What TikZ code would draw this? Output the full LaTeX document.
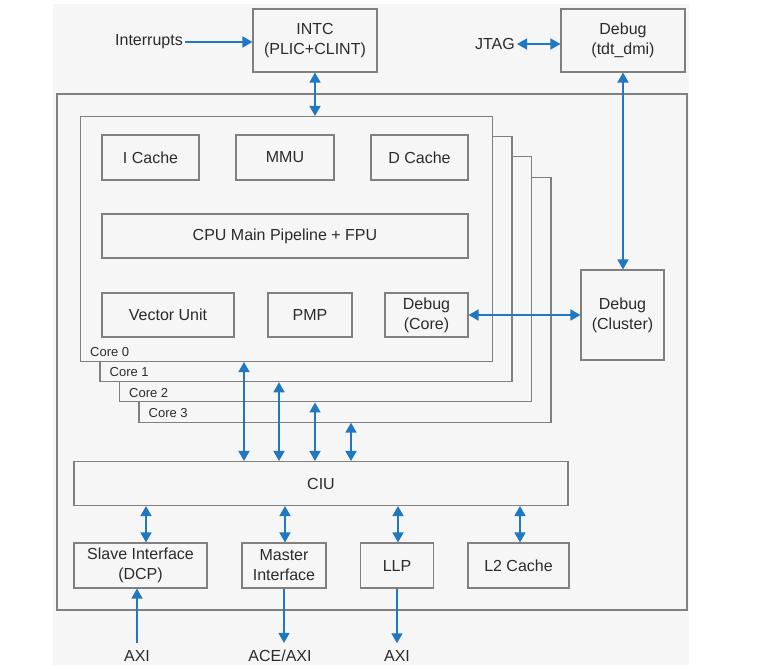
\documentclass[tikz,border=0pt]{standalone}
\usepackage{fontspec}
\setmainfont{Liberation Sans}
\usetikzlibrary{calc}
\usetikzlibrary{arrows.meta}

\definecolor{boxgray}{HTML}{808080}
\definecolor{bggray}{HTML}{F6F6F6}
\definecolor{txtgray}{HTML}{2B2B2B}
\definecolor{arrowblue}{HTML}{1F78C1}

\begin{document}
\begin{tikzpicture}[x=1pt, y=-1pt,
  blk/.style={draw=boxgray, line width=1.1pt, text=txtgray, font=\fontsize{16}{20}\selectfont, align=center, inner sep=0pt},
  corelbl/.style={text=txtgray, font=\fontsize{13}{15}\selectfont, anchor=south west, inner sep=2pt},
  lbl/.style={text=txtgray, font=\fontsize{16}{20}\selectfont, inner sep=2pt},
  uni/.style={arrowblue, line width=1.6pt, -{Triangle[length=10pt,width=11pt]}},
  bi/.style={arrowblue, line width=1.6pt, {Triangle[length=10pt,width=11pt]}-{Triangle[length=10pt,width=11pt]}}]

\useasboundingbox (0,0) rectangle (769,669);
\fill[bggray] (53,4) rectangle (689,665);

% top row
\node[blk, minimum width=124, minimum height=63] (intc) at (315,40.5) {INTC\\(PLIC+CLINT)};
\node[blk, minimum width=124, minimum height=63] (dmi) at (623,40.5) {Debug\\(tdt\_dmi)};
\node[lbl] (irq) at (149,42) {Interrupts};
\node[lbl] (jtag) at (495,44) {JTAG};

% cluster and core stack
\node[blk, minimum width=630, minimum height=516] (cluster) at (372,352) {};
\foreach \i in {3,2,1,0}
  \node[blk, fill=bggray, minimum width=412, minimum height=245] (core\i) at ($(286.5,239)+\i*(19.5,20.2)$) {};
\foreach \i in {0,...,3}
  \node[corelbl] (corename\i) at ($(core\i.south west)+(8,-3)$) {Core \i};

\node[blk, minimum width=97, minimum height=45] (icache) at (150.5,157.5) {I Cache};
\node[blk, minimum width=98, minimum height=45] (mmu) at (285,157.5) {MMU};
\node[blk, minimum width=97, minimum height=45] (dcache) at (419.5,157.5) {D Cache};
\node[blk, minimum width=366, minimum height=44] (pipe) at (285,236) {CPU Main Pipeline + FPU};
\node[blk, minimum width=132, minimum height=44] (vec) at (168,315) {Vector Unit};
\node[blk, minimum width=84, minimum height=44] (pmp) at (310,315) {PMP};
\node[blk, minimum width=83, minimum height=44] (dbgcore) at (426.5,315) {Debug\\(Core)};
\node[blk, minimum width=83, minimum height=90] (dbgcl) at (622.5,315) {Debug\\(Cluster)};

% ciu and below
\node[blk, minimum width=494, minimum height=44] (ciu) at (321,483.5) {CIU};
\node[blk, minimum width=133, minimum height=45] (slave) at (140.5,565.5) {Slave Interface\\(DCP)};
\node[blk, minimum width=84, minimum height=45] (master) at (284,565.5) {Master\\Interface};
\node[blk, minimum width=73, minimum height=45] (llp) at (397,565.5) {LLP};
\node[blk, minimum width=101, minimum height=45] (l2) at (518.5,565.5) {L2 Cache};

\node[lbl, inner ysep=7pt] (axia) at (137,656) {AXI};
\node[lbl, inner ysep=7pt] (acea) at (280,656) {ACE/AXI};
\node[lbl, inner ysep=7pt] (axib) at (397,656) {AXI};

% connectors
\draw[uni] (irq.east) -- (irq.east -| intc.west);
\draw[bi] (jtag.east) -- (jtag.east -| dmi.west);
\draw[bi] (intc.south) -- (intc.south |- core0.north);
\draw[bi] (dmi.south) -- (dmi.south |- dbgcl.north);
\draw[bi] (dbgcore.east) -- (dbgcl.west);
\foreach \i/\x in {0/244,1/279,2/315,3/351}
  \draw[bi] (core\i.south -| \x,0) -- (ciu.north -| \x,0);
\foreach \b/\x in {slave/146,master/285,llp/398,l2/520}
  \draw[bi] (ciu.south -| \x,0) -- (\b.north -| \x,0);
\draw[uni] (axia.north) -- (axia.north |- slave.south);
\draw[uni] (master.south) -- (master.south |- acea.north);
\draw[uni] (llp.south) -- (llp.south |- axib.north);

\end{tikzpicture}
\end{document}
